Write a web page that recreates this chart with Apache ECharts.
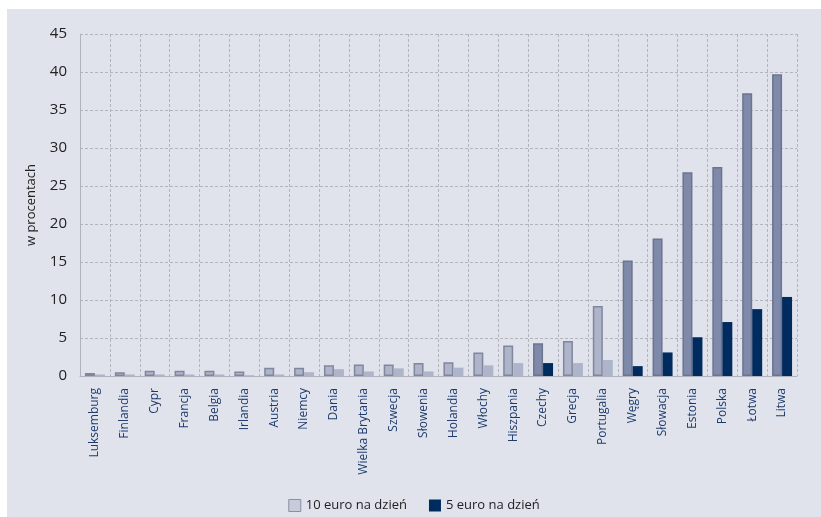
<!DOCTYPE html>
<html>
<head>
<meta charset="utf-8">
<script src="https://cdn.jsdelivr.net/npm/echarts@6/dist/echarts.min.js"></script>
<style>
  html, body { margin: 0; padding: 0; background: #ffffff; }
  #chart { position: absolute; left: 7px; top: 9px; width: 814px; height: 508px; }
</style>
</head>
<body>
<div id="chart"></div>
<script>
// Share of people (%) living on less than a given amount per day
const categories = ['Luksemburg', 'Finlandia', 'Cypr', 'Francja', 'Belgia', 'Irlandia', 'Austria',
  'Niemcy', 'Dania', 'Wielka Brytania', 'Szwecja', 'Słowenia', 'Holandia', 'Włochy', 'Hiszpania',
  'Czechy', 'Grecja', 'Portugalia', 'Węgry', 'Słowacja', 'Estonia', 'Polska', 'Łotwa', 'Litwa'];
const tenEuro = [0.4, 0.5, 0.7, 0.7, 0.7, 0.6, 1.1, 1.1, 1.4, 1.5, 1.5, 1.7, 1.8, 3.1, 4.0,
  4.3, 4.6, 9.2, 15.2, 18.1, 26.8, 27.5, 37.2, 39.7];
const fiveEuro = [0.2, 0.2, 0.2, 0.2, 0.2, 0.1, 0.2, 0.5, 0.9, 0.6, 1.0, 0.6, 1.1, 1.4, 1.7,
  1.7, 1.7, 2.1, 1.3, 3.1, 5.1, 7.1, 8.8, 10.4];
const highlighted = ['Czechy', 'Węgry', 'Słowacja', 'Estonia', 'Polska', 'Łotwa', 'Litwa'];
const yTicks = [0, 5, 10, 15, 20, 25, 30, 35, 40, 45];
const seriesNames = ['10 euro na dzień', '5 euro na dzień'];

const FONT = 'Open Sans';
const isHi = (i) => highlighted.includes(categories[i]);

const tenData = tenEuro.map((v, i) => ({
  value: v,
  itemStyle: isHi(i)
    ? { color: '#7f89a9', borderColor: '#6c7490', borderWidth: 1.5 }
    : { color: '#aeb5cb', borderColor: '#80879c', borderWidth: 1.5 }
}));
const fiveData = fiveEuro.map((v, i) => ({
  value: v,
  itemStyle: isHi(i)
    ? { color: '#002b5e', borderWidth: 0 }
    : { color: '#aeb5cb', borderWidth: 0 }
}));

const chart = echarts.init(document.getElementById('chart'), null, { renderer: 'canvas' });
chart.setOption({
  backgroundColor: '#e0e3ec',
  animation: false,
  grid: { left: 73, right: 24, top: 25, bottom: 141, containLabel: false },
  legend: {
    bottom: 5,
    left: 'center',
    padding: 0,
    icon: 'rect',
    itemWidth: 12,
    itemHeight: 12,
    itemGap: 22,
    textStyle: { fontFamily: FONT, fontSize: 13, color: '#222222' },
    data: [
      { name: seriesNames[0], itemStyle: { color: '#c8ccda', borderColor: '#8a90a3', borderWidth: 1 } },
      { name: seriesNames[1], itemStyle: { color: '#002b5e' } }
    ]
  },
  xAxis: {
    type: 'category',
    data: categories,
    boundaryGap: true,
    axisLine: { show: true, lineStyle: { color: '#b0b3bd', width: 1 } },
    axisTick: { show: false },
    splitLine: { show: true, lineStyle: { color: '#b3b5bd', type: [3, 2], width: 1 } },
    axisLabel: {
      rotate: 90,
      margin: 12,
      interval: 0,
      fontFamily: FONT,
      fontSize: 12,
      color: '#1d3b6c'
    }
  },
  yAxis: {
    type: 'value',
    min: yTicks[0],
    max: yTicks[yTicks.length - 1],
    interval: 5,
    name: 'w procentach',
    nameLocation: 'middle',
    nameRotate: 90,
    nameGap: 42,
    nameTextStyle: { fontFamily: FONT, fontSize: 13, color: '#222222' },
    axisLine: { show: true, lineStyle: { color: '#b0b3bd', width: 1 } },
    axisTick: { show: false },
    splitLine: { show: true, lineStyle: { color: '#b3b5bd', type: [3, 2], width: 1 } },
    axisLabel: { margin: 13, fontFamily: FONT, fontSize: 15, color: '#222222' }
  },
  series: [
    {
      name: seriesNames[0],
      type: 'bar',
      data: tenData,
      barWidth: 10,
      barGap: '0%',
      itemStyle: { color: '#aeb5cb', borderColor: '#80879c', borderWidth: 1.5 }
    },
    {
      name: seriesNames[1],
      type: 'bar',
      data: fiveData,
      barWidth: 10,
      barGap: '0%',
      itemStyle: { color: '#002b5e' }
    }
  ]
});
</script>
</body>
</html>
